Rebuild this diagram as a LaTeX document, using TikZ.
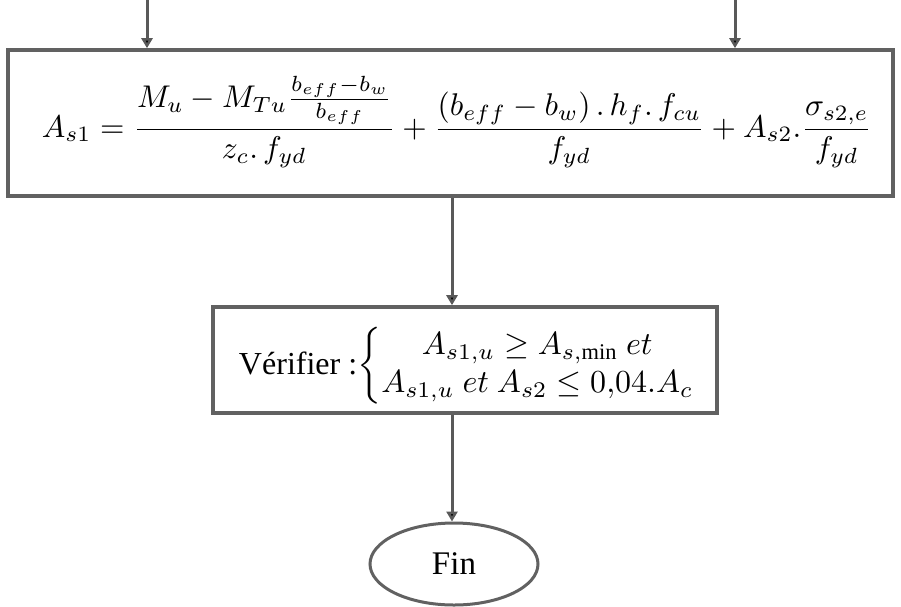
\documentclass[tikz,border=0pt]{standalone}
\usepackage{amsmath}
\usepackage{fontspec}
\setmainfont{Liberation Serif}
\usetikzlibrary{shapes.geometric,arrows.meta}
\begin{document}
\begin{tikzpicture}[x=1pt,y=-1pt,
  boxst/.style={draw=black!62,line width=3.6pt,inner sep=0pt},
  conn/.style={draw=black!65,line width=3pt,-{Triangle[length=10pt,width=11pt,fill=black]}}]
\useasboundingbox (0,0) rectangle (901,606);
\node[boxst,minimum width=885pt,minimum height=146pt] (f) at (450.5,123) {};
\node (ftext) at (457,122) {\resizebox{830pt}{!}{$\displaystyle A_{s1}=\frac{M_u-M_{Tu}\frac{b_{eff}-b_w}{b_{eff}}}{z_c.\,f_{yd}}+\frac{\left(b_{eff}-b_w\right).\,h_f.\,f_{cu}}{f_{yd}}+A_{s2}.\frac{\sigma_{s2,e}}{f_{yd}}$}};
\coordinate (t1) at (147,0);
\coordinate (t2) at (735,0);
\draw[conn] (t1) -- (t1 |- f.north);
\draw[conn] (t2) -- (t2 |- f.north);
\node[boxst,minimum width=504pt,minimum height=106pt] (v) at (465,360) {};
\node (vtext) at (468,366) {\resizebox{458pt}{!}{Vérifier :$\left\{\begin{array}{@{}c@{}} A_{s1,u}\geq A_{s,\min}\ et\\ A_{s1,u}\ et\ A_{s2}\leq 0{,}04.A_c\end{array}\right.$}};
\node[ellipse,draw=black!62,line width=3pt,minimum width=168pt,minimum height=82pt,inner sep=0pt] (fin) at (454,564) {\scalebox{3.3}{Fin}};
\draw[conn] (f.south -| 452,0) -- (v.north -| 452,0);
\draw[conn] (v.south -| 452,0) -- (fin.north -| 452,0);
\end{tikzpicture}
\end{document}
